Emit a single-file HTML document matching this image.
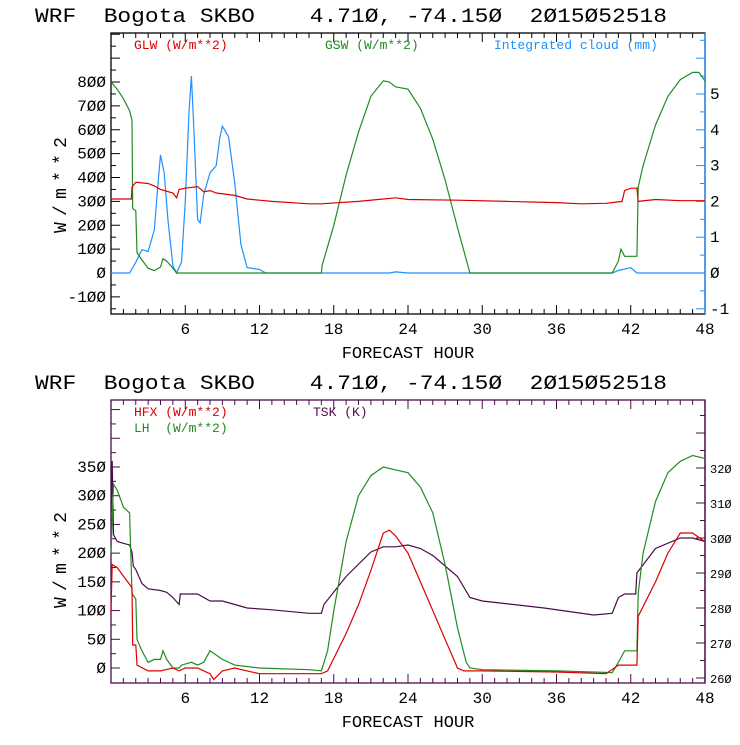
<!DOCTYPE html>
<html><head><meta charset="utf-8"><style>
body{margin:0;background:#fff}
svg text{font-family:"Liberation Mono","DejaVu Sans Mono",monospace;white-space:pre}
</style></head><body>
<svg id="c" width="740" height="740" xmlns="http://www.w3.org/2000/svg"></svg>
<script>
// ---- data ----
const xTicks=[6,12,18,24,30,36,42,48];
const glwH=[0,1.65,1.7,2,3,3.5,4,5,5.3,5.5,6,7,7.5,8,8.5,10,11,13,16,17,20,23,24,28,32,36,38,40,41.3,41.5,42,42.5,42.6,44,46,48];
const glwV=[310,310,360,380,375,365,350,335,315,350,355,362,340,345,335,325,310,300,290,290,300,315,308,305,300,295,290,292,300,345,355,355,300,308,303,303];
const gswH=[0,0.5,1,1.5,1.7,1.75,2,2.1,2.5,3,3.5,4,4.2,4.5,5,5.3,17,17.05,18,19,20,21,22,22.5,23,24,25,26,27,28,29,40.5,41,41.2,41.5,42.5,42.6,43,44,45,46,47,47.5,48];
const gswV=[800,770,730,680,640,270,260,85,55,20,10,25,60,50,20,0,0,30,200,410,590,740,805,800,780,770,690,560,390,190,0,0,50,100,70,70,360,450,620,740,810,840,840,805];
const cldH=[0,1.5,2,2.5,3,3.5,3.8,4,4.3,4.6,5,5.3,5.7,6,6.3,6.5,6.7,7,7.2,7.5,8,8.5,8.8,9,9.5,10,10.5,11,12,12.5,22.5,23,24,40.5,41,42,42.5,48];
const cldV=[0,0,0.3,0.65,0.6,1.2,2.5,3.3,2.8,1.5,0.2,0,0.3,2,4.5,5.5,4,1.5,1.4,2.2,2.8,3.0,3.8,4.1,3.8,2.5,0.8,0.15,0.1,0,0,0.03,0,0,0.07,0.15,0,0];
const hfxH=[0,0.1,0.5,1,1.7,1.75,2,2.1,3,4,5,5.5,6,7,7.5,8,8.3,9,10,11,12,14,17,17.5,19,20,21,22,22.5,23,24,25,26,27,28,28.5,30,36,40,41,42,42.5,42.6,44,45,46,47,48];
const hfxV=[100,180,175,160,140,40,40,5,-5,-5,0,-5,0,0,-5,-10,-20,-5,0,-5,-10,-10,-10,-5,60,110,170,235,240,230,200,150,100,50,0,-5,-5,-7,-10,5,5,5,90,150,200,235,235,220];
const lhH=[0,0.2,0.5,1,1.5,1.7,2,2.1,2.5,3,3.5,4,4.2,4.5,5,5.5,5.7,6.5,7,7.5,8,9,10,12,16,17,17.5,18,19,20,21,22,23,24,25,26,27,28,28.7,29,30,36,40.5,41,41.5,42.5,42.6,43,44,45,46,47,48];
const lhV=[200,320,310,280,270,130,120,50,30,10,15,15,30,15,0,0,5,10,5,10,30,15,5,0,-3,-5,30,100,220,300,335,350,345,340,315,270,180,70,10,0,-3,-5,-8,10,30,30,130,200,290,340,360,370,365];
const tskH=[0,0.1,0.2,0.5,1,1.5,1.7,1.8,2,2.5,3,4,4.5,5,5.5,5.6,7,8,9,10,11,13,16,17,17.2,19,21,22,23,24,25,26,28,29,30,35,37,39,40.5,41,41.5,42.4,42.5,44,46,47,48];
const tskV=[305,322,301,299,298.5,298,296,292,291,287,285.5,285,284.5,283,281,284,284,282,282,281,280,279.5,278.5,278.5,281,289,296,297.5,297.5,298,297,295,289,283,282,280,279,278,278.5,283,284,284,290,297,300,300,299];
const topL=[-100,0,100,200,300,400,500,600,700,800];
const topR=[-1,0,1,2,3,4,5];
const botL=[0,50,100,150,200,250,300,350];
const botR=[260,270,280,290,300,310,320];
// ---- drawing ----
const S=document.getElementById('c'),NS='http://www.w3.org/2000/svg';
function el(t,a,txt){const e=document.createElementNS(NS,t);for(const k in a)e.setAttribute(k,a[k]);if(txt!==undefined)e.textContent=txt;S.appendChild(e);return e;}
const X0=111,X1=705;const xs=h=>X0+(X1-X0)*h/48;
function lin(v0,p0,v1,p1){return v=>p0+(v-v0)*(p1-p0)/(v1-v0);}
function series(H,V,sc,col,name){
  const pts=H.map((h,i)=>xs(h).toFixed(1)+','+sc(V[i]).toFixed(1)).join(' ');
  const p=el('polyline',{points:pts,fill:'none',stroke:col,'stroke-width':1.2});
  
  
}
function title(y,name){
  const t=el('text',{x:35,y:y,'font-size':20,textLength:632,lengthAdjust:'spacingAndGlyphs'},'WRF  Bogota SKBO    4.71\u00d8, -74.15\u00d8  2\u00d815\u00d852518');
  
}
function frame(y0,y1,lc,rc,name){
  const g=el('rect',{x:X0,y:y0,width:X1-X0,height:y1-y0,fill:'none',stroke:lc,'stroke-width':1.3});
  
  el('line',{x1:X1,y1:y0,x2:X1,y2:y1,stroke:rc,'stroke-width':1.3});
  for(let h=1;h<48;h++){const L=h%6==0?9:5;
    el('line',{x1:xs(h),y1:y1,x2:xs(h),y2:y1-L,stroke:lc});
    el('line',{x1:xs(h),y1:y0,x2:xs(h),y2:y0+L,stroke:lc});}
  xTicks.forEach(h=>{const t=el('text',{x:xs(h),y:y1+20,'font-size':16,'text-anchor':'middle'},String(h));
    });
  const xt=el('text',{x:408,y:y1+44,'font-size':17,'text-anchor':'middle'},'FORECAST HOUR');
  
}
function yticks(vals,sc,step,minor,y0,y1,side,col,fs,fmt){
  const xe=side=='L'?X0:X1,d=side=='L'?1:-1;
  for(let v=vals[0]-step*4;v<=vals[vals.length-1]+step*4;v+=minor){const y=sc(v);if(y<y0+1||y>y1-1)continue;
    const major=Math.abs(v/step-Math.round(v/step))<1e-6;
    el('line',{x1:xe,y1:y,x2:xe+d*(major?9:5),y2:y,stroke:col});}
  vals.forEach(v=>{const t=el('text',{x:side=='L'?X0-5:X1+5,y:sc(v)+5,'font-size':fs,'text-anchor':side=='L'?'end':'start',fill:'#000'},fmt(v));
    });
}
const z=v=>String(v).replace(/0/g,'\u00d8');
// top chart
title(22,'top-title');
frame(33,314,'#000','#1e90ff','top-plot-frame');
const tL=lin(0,273,800,82),tR=lin(0,273,5,94);
yticks(topL,tL,100,50,33,314,'L','#000',16,z);
yticks(topR,tR,1,0.5,33,314,'R','#1e90ff',16,z);
let yt=el('text',{x:0,y:0,'font-size':18,'text-anchor':'middle',transform:'translate(66,185) rotate(-90)',textLength:96},'W/m**2');

series(cldH,cldV,tR,'#1e90ff','cloud-line');
series(gswH,gswV,tL,'#228b22','gsw-line');
series(glwH,glwV,tL,'#dd0000','glw-line');
[[134,'#dd0000','GLW (W/m**2)','legend-glw'],[325,'#228b22','GSW (W/m**2)','legend-gsw'],[494,'#1e90ff','Integrated cloud (mm)','legend-cloud']].forEach(a=>{
  const t=el('text',{x:a[0],y:49,'font-size':13,fill:a[1],'font-family':'Liberation Serif, serif'},a[2]);
  });
// bottom chart
title(389,'bottom-title');
frame(400,683,'#4b0c4b','#4b0c4b','bottom-plot-frame');
const bL=lin(0,668,350,467),bR=lin(260,678,320,468);
yticks(botL,bL,50,25,400,683,'L','#4b0c4b',16,z);
yticks(botR,bR,10,5,400,683,'R','#4b0c4b',12,z);
yt=el('text',{x:0,y:0,'font-size':18,'text-anchor':'middle',transform:'translate(66,560) rotate(-90)',textLength:96},'W/m**2');

series(tskH,tskV,bR,'#4b0c4b','tsk-line');
series(lhH,lhV,bL,'#228b22','lh-line');
series(hfxH,hfxV,bL,'#dd0000','hfx-line');
[[134,416,'#dd0000','HFX (W/m**2)','legend-hfx'],[134,432,'#228b22','LH  (W/m**2)','legend-lh'],[313,416,'#4b0c4b','TSK (K)','legend-tsk']].forEach(a=>{
  const t=el('text',{x:a[0],y:a[1],'font-size':13,fill:a[2],'font-family':'Liberation Serif, serif'},a[3]);
  });
</script>
</body></html>
